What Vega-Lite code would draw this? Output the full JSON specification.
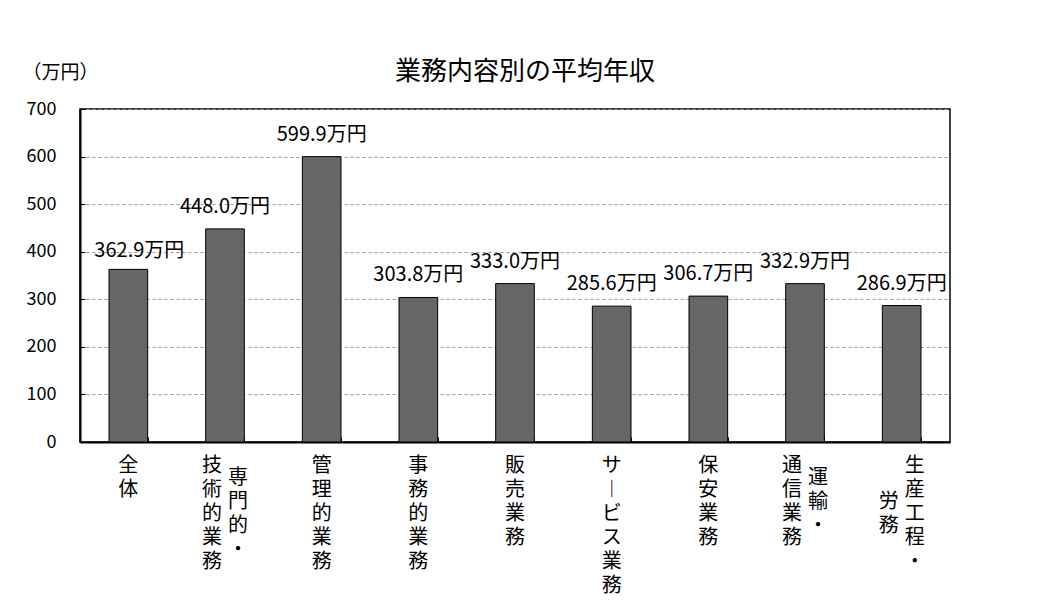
{
  "$schema": "https://vega.github.io/schema/vega-lite/v6.json",
  "width": 870,
  "height": 333,
  "autosize": "none",
  "padding": {"left": 80, "top": 109, "right": 98, "bottom": 174},
  "background": "white",
  "config": {
    "font": "Noto Sans CJK JP",
    "view": {"stroke": "black", "strokeWidth": 1.5}
  },
  "title": {
    "text": "業務内容別の平均年収",
    "fontSize": 26,
    "fontWeight": "normal",
    "color": "black",
    "anchor": "middle",
    "dx": 10,
    "offset": -22
  },
  "data": {
    "values": [
      {"cat": "全体", "r": "全体", "l": null, "value": 362.9},
      {"cat": "専門的・技術的業務", "r": "専門的・", "l": "技術的業務", "value": 448.0},
      {"cat": "管理的業務", "r": "管理的業務", "l": null, "value": 599.9},
      {"cat": "事務的業務", "r": "事務的業務", "l": null, "value": 303.8},
      {"cat": "販売業務", "r": "販売業務", "l": null, "value": 333.0},
      {"cat": "サービス業務", "r": "サービス業務", "l": null, "value": 285.6},
      {"cat": "保安業務", "r": "保安業務", "l": null, "value": 306.7},
      {"cat": "運輸・通信業務", "r": "運輸・", "l": "通信業務", "value": 332.9},
      {"cat": "生産工程・労務", "r": "生産工程・", "l": "労務", "value": 286.9}
    ]
  },
  "transform": [
    {"calculate": "format(datum.value, '.1f') + '万円'", "as": "vlabel"},
    {"calculate": "split(replace(datum.r, 'ー', '︱'), '')", "as": "rc"},
    {"calculate": "datum.l ? split(datum.l, '') : []", "as": "lc"},
    {"calculate": "max(length(datum.r), datum.l ? length(datum.l) : 0)", "as": "n"},
    {"calculate": "datum.n - length(datum.r)", "as": "dr"},
    {"calculate": "datum.l ? datum.n - length(datum.l) : -1", "as": "dl"}
  ],
  "encoding": {
    "x": {
      "field": "cat",
      "type": "nominal",
      "sort": null,
      "scale": {"paddingInner": 0.6, "paddingOuter": 0.3},
      "axis": {
        "title": null,
        "labels": false,
        "tickBand": "extent",
        "tickSize": -5,
        "tickColor": "black",
        "tickWidth": 1,
        "domainColor": "black",
        "domainWidth": 2
      }
    }
  },
  "layer": [
    {
      "mark": {"type": "bar", "fill": "#666666", "stroke": "black", "strokeWidth": 1},
      "encoding": {
        "y": {
          "field": "value",
          "type": "quantitative",
          "scale": {"domain": [0, 700]},
          "axis": {
            "values": [0, 100, 200, 300, 400, 500, 600, 700],
            "tickSize": -5,
            "tickColor": "black",
            "labelFontSize": 18,
            "labelColor": "black",
            "labelPadding": 29,
            "domainColor": "black",
            "domainWidth": 2,
            "grid": true,
            "gridColor": "#999999",
            "gridDash": [3, 3],
            "gridWidth": 1,
            "title": "（万円）",
            "titleAngle": 0,
            "titleX": -58,
            "titleY": -37,
            "titleAlign": "left",
            "titleBaseline": "middle",
            "titleFontSize": 19,
            "titleFontWeight": "normal",
            "titleColor": "black"
          }
        }
      }
    },
    {
      "transform": [{"filter": "datum.cat != '全体'"}],
      "mark": {"type": "text", "fontSize": 20, "color": "black", "baseline": "alphabetic", "dy": -16},
      "encoding": {
        "y": {"field": "value", "type": "quantitative"},
        "text": {"field": "vlabel", "type": "nominal"}
      }
    },
    {
      "transform": [{"filter": "datum.cat == '全体'"}],
      "mark": {"type": "text", "fontSize": 20, "color": "black", "baseline": "alphabetic", "dy": -12, "dx": 11},
      "encoding": {
        "y": {"field": "value", "type": "quantitative"},
        "text": {"field": "vlabel", "type": "nominal"}
      }
    },
    {
      "transform": [{"filter": "!datum.l"}],
      "mark": {"type": "text", "fontSize": 20, "lineHeight": 24, "color": "black", "baseline": "top", "dy": 14},
      "encoding": {
        "y": {"datum": 0, "type": "quantitative"},
        "text": {"field": "rc", "type": "nominal"}
      }
    },
    {
      "transform": [{"filter": "datum.l && datum.dr == 0"}],
      "mark": {"type": "text", "fontSize": 20, "lineHeight": 24, "color": "black", "baseline": "top", "dy": 14, "dx": 13},
      "encoding": {
        "y": {"datum": 0, "type": "quantitative"},
        "text": {"field": "rc", "type": "nominal"}
      }
    },
    {
      "transform": [{"filter": "datum.l && datum.dr == 1"}],
      "mark": {"type": "text", "fontSize": 20, "lineHeight": 24, "color": "black", "baseline": "top", "dy": 26, "dx": 13},
      "encoding": {
        "y": {"datum": 0, "type": "quantitative"},
        "text": {"field": "rc", "type": "nominal"}
      }
    },
    {
      "transform": [{"filter": "datum.l && datum.dl == 0"}],
      "mark": {"type": "text", "fontSize": 20, "lineHeight": 24, "color": "black", "baseline": "top", "dy": 14, "dx": -13},
      "encoding": {
        "y": {"datum": 0, "type": "quantitative"},
        "text": {"field": "lc", "type": "nominal"}
      }
    },
    {
      "transform": [{"filter": "datum.l && datum.dl == 3"}],
      "mark": {"type": "text", "fontSize": 20, "lineHeight": 24, "color": "black", "baseline": "top", "dy": 50, "dx": -13},
      "encoding": {
        "y": {"datum": 0, "type": "quantitative"},
        "text": {"field": "lc", "type": "nominal"}
      }
    }
  ]
}
